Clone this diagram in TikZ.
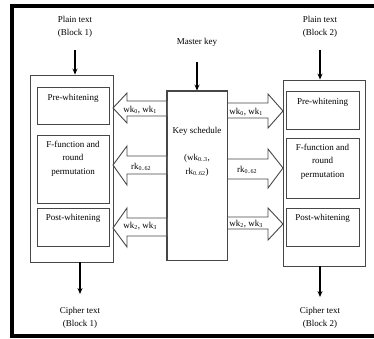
\documentclass[tikz,border=0pt]{standalone}
\usepackage{fontspec}
\setmainfont{Liberation Serif}
\usetikzlibrary{arrows.meta}
\begin{document}
\begin{tikzpicture}[x=1pt,y=-1pt,
  txt/.style={font=\fontsize{9}{13.5}\selectfont, inner sep=0pt, align=center},
  box/.style={draw=black!72, line width=0.9pt, inner sep=0pt},
  blockarrow/.style={draw=black!72, line width=0.9pt, fill=white, line join=miter},
  flow/.style={draw=black, line width=1.4pt, -{Stealth[length=6pt,width=5pt]}}]
\useasboundingbox (0,0) rectangle (374,338);

% outer frame (open on the right)
\draw[line width=4pt] (376,6) -- (12,6) -- (12,336) -- (376,336);

% encryption block 1
\node[box, minimum width=83pt, minimum height=187pt] (L) at (71.5,168.5) {};
\node[box, minimum width=72pt, minimum height=37pt] (L1) at (73,105.5) {};
\node[box, minimum width=72pt, minimum height=68pt] (L2) at (73,169) {};
\node[box, minimum width=72pt, minimum height=38pt] (L3) at (73,227) {};
\node[txt, anchor=center] (L1t) at ([yshift=-12pt] L1.north) {Pre-whitening};
\node[txt, anchor=north] (L2t) at ([yshift=-6pt] L2.north) {F-function and\\round\\permutation};
\node[txt, anchor=center] (L3t) at ([yshift=-11pt] L3.north) {Post-whitening};

% key schedule
\node[box, minimum width=60pt, minimum height=169pt] (K) at (197,175.5) {};
\node[txt] (Kt) at (197,152) {Key schedule\\[13.5pt](wk\textsubscript{0..3},\\rk\textsubscript{0..62})};

% encryption block 2
\node[box, minimum width=82pt, minimum height=186pt] (R) at (324,173) {};
\node[box, minimum width=73pt, minimum height=38pt] (R1) at (322.5,110) {};
\node[box, minimum width=73pt, minimum height=60pt] (R2) at (322.5,168) {};
\node[box, minimum width=73pt, minimum height=38pt] (R3) at (322.5,227) {};
\node[txt, anchor=center] (R1t) at ([yshift=-12pt] R1.north) {Pre-whitening};
\node[txt, anchor=north] (R2t) at ([yshift=-6pt] R2.north) {F-function and\\round\\permutation};
\node[txt, anchor=center] (R3t) at ([yshift=-11pt] R3.north) {Post-whitening};

% inputs and outputs
\node[txt] (P1) at (75,27) {Plain text\\(Block 1)};
\node[txt] (P2) at (320,27) {Plain text\\(Block 2)};
\node[txt] (MK) at (197,42) {Master key};
\node[txt] (C1) at (80,318) {Cipher text\\(Block 1)};
\node[txt] (C2) at (320,318) {Cipher text\\(Block 2)};

\coordinate (p1a) at (75,50);
\coordinate (p2a) at (320,50);
\coordinate (mka) at (197,62);
\coordinate (c1a) at (80,294);
\coordinate (c2a) at (320,297);
\draw[flow] (p1a) -- (p1a |- L.north);
\draw[flow] (p2a) -- (p2a |- R.north);
\draw[flow] (mka) -- (mka |- K.north);
\draw[flow] (c1a |- L.south) -- (c1a);
\draw[flow] (c2a |- R.south) -- (c2a);

% hollow subkey arrows: #1 tip x, #2 source x, #3 head base x,
% #4 tip y, #5 shaft top, #6 shaft bottom, #7 head top, #8 head bottom
\newcommand\subkeyarrow[8]{%
  \draw[blockarrow] (#2,#5) -- (#3,#5) -- (#3,#7) -- (#1,#4) -- (#3,#8) -- (#3,#6) -- (#2,#6);}

% to block 1
\subkeyarrow{113}{167}{127}{108}{101}{116}{93}{123}
\subkeyarrow{113}{167}{127}{165}{156}{174}{146}{185}
\subkeyarrow{113}{167}{127}{228}{218}{236}{208}{247}
% to block 2
\subkeyarrow{283}{227}{268}{111}{103}{118}{94}{128}
\subkeyarrow{283}{227}{268}{168}{159}{179}{149}{188}
\subkeyarrow{283}{227}{268}{224}{217}{229}{208}{240}
\draw[box] (K.north west) rectangle (K.south east);

% subkey labels
\node[txt] (a1) at (140,110) {wk\textsubscript{0}, wk\textsubscript{1}};
\node[txt] (a2) at (141,167) {rk\textsubscript{0..62}};
\node[txt] (a3) at (140,226) {wk\textsubscript{2}, wk\textsubscript{3}};
\node[txt] (b1) at (246,112) {wk\textsubscript{0}, wk\textsubscript{1}};
\node[txt] (b2) at (247,170) {rk\textsubscript{0..62}};
\node[txt] (b3) at (246,224) {wk\textsubscript{2}, wk\textsubscript{3}};
\end{tikzpicture}
\end{document}
